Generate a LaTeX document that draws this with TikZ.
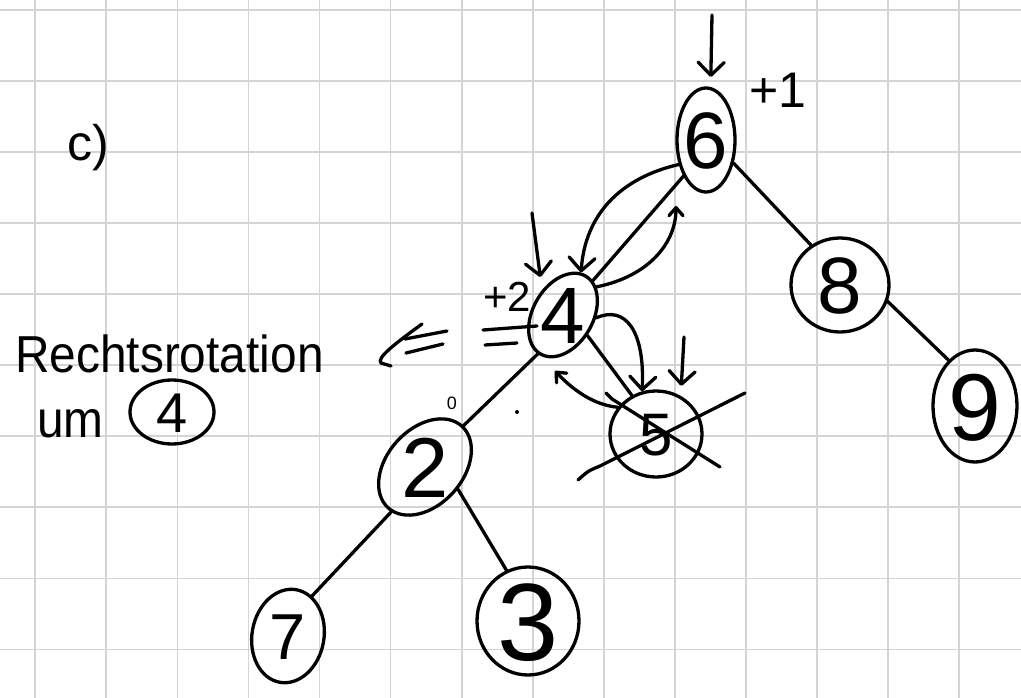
\documentclass[tikz,border=0pt]{standalone}
\usepackage{fontspec}
\setmainfont{Liberation Sans}
\usetikzlibrary{shapes.geometric,arrows.meta}
\definecolor{gridgray}{RGB}{212,212,212}
\newcommand\ndig[2][0]{\rotatebox[origin=c]{#1}{\makebox[0pt]{\raisebox{-0.36em}[0pt][0pt]{#2}}}}
\tikzset{
  ink/.style={line width=3.3pt, line cap=round, line join=round, black},
  ring/.style={ink, draw, ellipse, inner sep=0pt},
  edge/.style={ink},
  arr/.style={ink, -{Straight Barb[length=13pt,width=26pt,round]}},
  arrs/.style={ink, -{Straight Barb[length=8pt,width=14pt,round]}},
  gridline/.style={line width=1.8pt, gridgray},
  hand/.style={inner sep=0pt, black},
}
\begin{document}
\begin{tikzpicture}[x=1pt,y=-1pt]
\fill[white] (0,0) rectangle (1021,698);
\useasboundingbox (0,0) rectangle (1021,698);
% grid paper
\foreach \i in {0,...,13} \draw[gridline] ({35.3+71.05*\i},0) -- ({35.3+71.05*\i},698);
\foreach \j in {0,...,9} \draw[gridline] (0,{10+71.05*\j}) -- (1021,{10+71.05*\j});

% tree nodes
\node[ring, minimum width=58pt, minimum height=104pt, font=\fontsize{80}{80}\selectfont] (n6) at (706,140) {\ndig{6}};
\node[ring, rotate=60, minimum width=90pt, minimum height=60pt, font=\fontsize{80}{80}\selectfont] (n4) at (563,315) {\ndig[-60]{4}};
\node[ring, minimum width=98pt, minimum height=94pt, font=\fontsize{80}{80}\selectfont] (n8) at (840,285) {\ndig{8}};
\node[ring, minimum width=84pt, minimum height=112pt, font=\fontsize{95}{95}\selectfont] (n9) at (975,406) {\ndig{9}};
\node[ring, rotate=48, minimum width=110pt, minimum height=76pt, font=\fontsize{85}{85}\selectfont] (n2) at (425,467) {\ndig[-48]{2}};
\node[ring, minimum width=92pt, minimum height=86pt, font=\fontsize{60}{60}\selectfont] (n5) at (656,434) {\ndig{5}};
\node[ring, rotate=-10, minimum width=72pt, minimum height=94pt, font=\fontsize{65}{65}\selectfont] (n7) at (288,636) {\ndig[10]{7}};
\node[ring, minimum width=102pt, minimum height=108pt, font=\fontsize{110}{110}\selectfont] (n3) at (528,621) {\ndig{3}};

% tree edges
\draw[edge] (n6.238) -- (n4.349);
\draw[edge] (n6.320) -- (n8.126);
\draw[edge] (n8.341) -- (n9.120);
\draw[edge] (n4.260) -- (n5.122);
\draw[edge] (n4.177) -- (n2.359);
\draw[edge] (n2.185) -- (n7.69);
\draw[edge] (n2.278) -- (n3.113);

% annotation arrows
\coordinate (d1) at (712,15);
\coordinate (d2) at (532,213);
\coordinate (d3) at (684,337);
\coordinate (a2e) at (676,206);
\coordinate (a4e) at (555,371);
\draw[arr, shorten >=10pt] (d1) -- (n6.85);
\draw[arr, shorten >=13pt] (d2) -- (n4.70);
\draw[arr, shorten >=10pt] (d3) -- (n5.57);
\draw[arr] (n6.222) .. controls (620,178) and (585,215) .. (n4.7);
\draw[arrs] (n4.340) .. controls (650,276) and (676,242) .. (a2e);
\draw[arr] (n4.295) .. controls (625,305) and (645,330) .. (n5.108);
\draw[arrs] (n5.145) .. controls (595,405) and (575,392) .. (a4e);

% crossed-out 5
\draw[ink] (578,480) .. controls (588,471) .. (600,466) -- (745,393);
\draw[ink] (606,393) -- (612,399) -- (720,467);

% left double arrow and equals sign
\draw[ink] (422,324) .. controls (396,343) and (376,358) .. (381,363) -- (391,366);
\draw[ink] (405,339) -- (447,331);
\draw[ink] (406,353) -- (443,344);
\draw[ink] (483,330) -- (537,326);
\draw[ink] (485,345) -- (517,343);

% texts
\node[hand, font=\fontsize{50}{50}\selectfont] (lc) at (88,148) {c)};
\node[hand, anchor=base west, xscale=0.92, font=\fontsize{52}{52}\selectfont] (lr) at (15,372) {Rechtsrotation};
\node[hand, anchor=base west, xscale=0.92, font=\fontsize{52}{52}\selectfont] (lu) at (37,437) {um};
\node[ring, minimum width=84pt, minimum height=64pt, font=\fontsize{56}{56}\selectfont] (c4) at (172,412) {\ndig{4}};
\node[hand, font=\fontsize{50}{50}\selectfont] (p1) at (778,90) {+1};
\node[hand, font=\fontsize{42}{42}\selectfont] (p2) at (507,297) {+2};
\node[hand, font=\fontsize{18}{18}\selectfont] (z2) at (452,403) {0};
\fill (517,412) circle (2pt);
\end{tikzpicture}
\end{document}
